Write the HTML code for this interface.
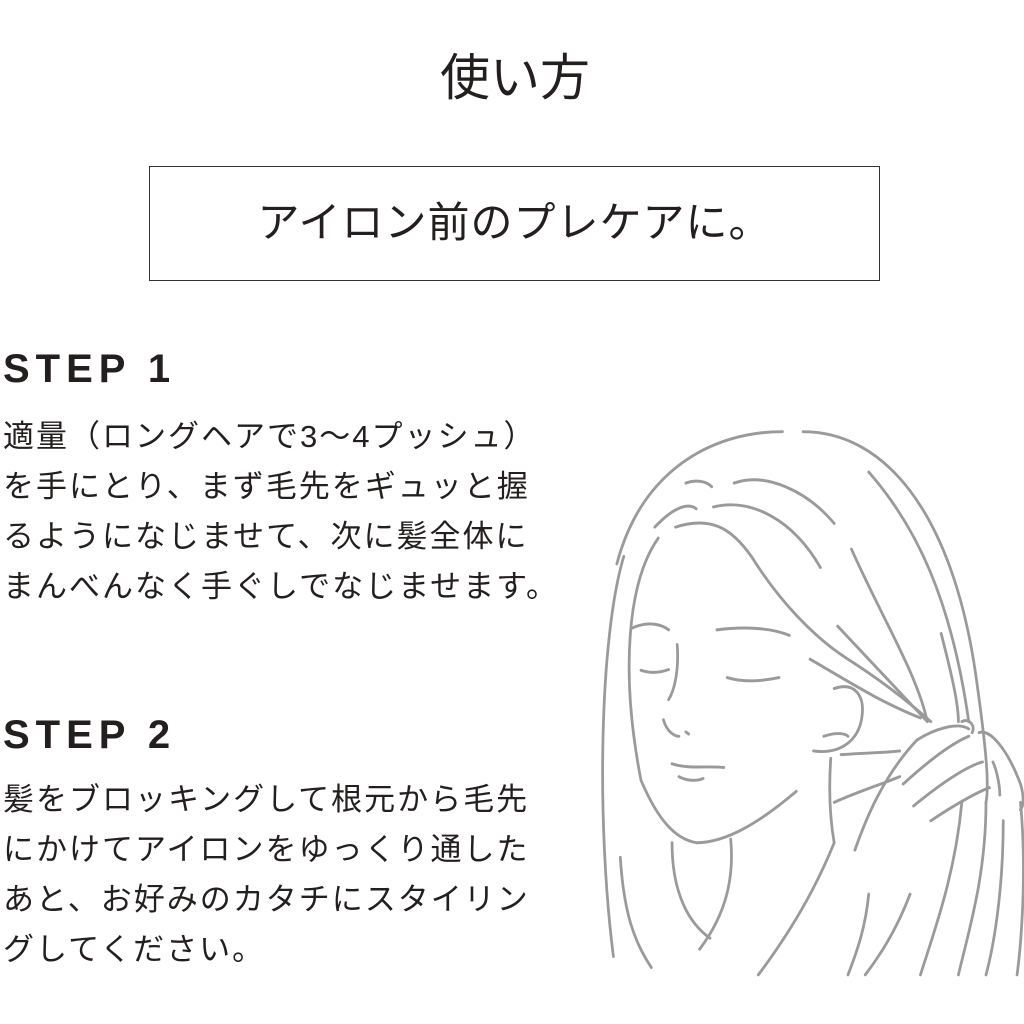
<!DOCTYPE html>
<html><head><meta charset="utf-8">
<style>
html,body{margin:0;padding:0;background:#fff;}
body{width:1024px;height:1024px;position:relative;overflow:hidden;font-family:"Liberation Sans","Noto Sans CJK JP",sans-serif;color:#231f1e;}
.t{position:absolute;white-space:nowrap;}
.title{left:0;width:1030px;text-align:center;top:38px;font-size:50px;font-weight:normal;}
.box{position:absolute;left:149px;top:166px;width:731px;height:115px;border:1.5px solid #333;box-sizing:border-box;}
.box div{text-align:center;font-size:42px;line-height:112px;font-weight:normal;letter-spacing:1px;}
.step{left:3px;font-size:40px;font-weight:bold;letter-spacing:6px;}
.body{left:3px;font-size:31px;letter-spacing:2px;line-height:50px;}
</style></head><body>
<div class="t title">使い方</div>
<div class="box"><div>アイロン前のプレケアに。</div></div>
<div class="t step" style="top:347px">STEP 1</div>
<div class="t body" style="top:412px">適量（ロングヘアで3～4プッシュ）<br>を手にとり、まず毛先をギュッと握<br>るようになじませて、次に髪全体に<br>まんべんなく手ぐしでなじませます。</div>
<div class="t step" style="top:713px">STEP 2</div>
<div class="t body" style="top:775px">髪をブロッキングして根元から毛先<br>にかけてアイロンをゆっくり通した<br>あと、お好みのカタチにスタイリン<br>グしてください。</div>
<svg style="position:absolute;left:0;top:0" width="1024" height="1024">
<g transform="translate(572,417) scale(0.345,0.367)" fill="none" stroke="#9a9a9a" stroke-width="8" stroke-linecap="round">
<path d="M130,400 C200,150 400,40 610,40"/>
<path d="M150,380 C80,600 70,1100 120,1470"/>
<path d="M670,40 C900,40 1100,250 1170,700 C1200,900 1210,1000 1200,1050"/>
<path d="M330,180 C360,170 390,175 405,190"/>
<path d="M470,180 C560,150 680,200 760,290"/>
<path d="M240,300 C300,240 340,235 360,250"/>
<path d="M410,245 C520,220 640,280 720,410"/>
<path d="M250,330 C160,450 140,700 200,990 C250,1100 300,1150 360,1160 C450,1160 550,1100 650,1020"/>
<path d="M300,300 C400,270 460,300 520,380 C600,500 700,600 800,660 C900,720 980,780 1040,830"/>
<path d="M175,575 C220,555 260,565 280,580"/>
<path d="M420,580 C500,570 580,575 630,595"/>
<path d="M200,690 C230,700 260,695 280,688"/>
<path d="M450,710 C500,725 560,718 600,710"/>
<path d="M305,620 C310,680 300,740 280,770"/>
<path d="M265,825 C275,860 300,870 310,870"/>
<path d="M330,858 L338,864"/>
<path d="M290,945 C340,960 390,950 440,955"/>
<path d="M310,980 C340,995 370,990 380,985"/>
<path d="M760,740 C820,720 850,760 840,820 C830,880 780,920 700,910"/>
<path d="M730,870 C760,860 790,860 800,870"/>
<path d="M290,1160 C290,1300 340,1380 400,1420"/>
<path d="M460,1150 C470,1250 450,1350 370,1450"/>
<path d="M750,930 C745,1000 745,1080 760,1160"/>
<path d="M760,1050 C830,1020 900,1000 950,980"/>
<path d="M780,920 C860,915 900,915 950,910"/>
<path d="M860,150 C1000,300 1100,500 1150,830"/>
<path d="M810,360 C900,550 1000,700 1030,830"/>
<path d="M770,570 C850,650 950,750 1030,830"/>
<path d="M690,660 C800,720 900,780 1010,820"/>
<path d="M1070,590 C1100,700 1120,780 1120,830"/>
<path d="M820,1180 C850,1100 900,980 1000,880 C1050,850 1120,830 1150,850"/>
<path d="M960,1000 C1030,940 1100,890 1150,870"/>
<path d="M990,1060 C1080,990 1150,950 1190,940"/>
<path d="M1040,1100 C1120,1050 1180,1020 1210,1010"/>
<path d="M1130,830 C1150,820 1170,840 1160,860"/>
<path d="M1180,860 C1210,850 1260,900 1300,1000 C1310,1030 1310,1060 1300,1070"/>
<path d="M1220,940 C1230,960 1240,1000 1240,1030"/>
<path d="M1130,1050 C1110,1250 1050,1400 1010,1520"/>
<path d="M1200,1050 C1200,1250 1150,1400 1120,1520"/>
<path d="M1300,1050 C1320,1250 1300,1450 1290,1520"/>
<path d="M1250,1100 C1250,1300 1220,1450 1200,1520"/>
<path d="M860,1300 C850,1400 820,1470 800,1520"/>
<path d="M760,1160 C700,1300 620,1420 540,1520"/>
<path d="M980,1300 C940,1400 890,1470 850,1520"/>
<path d="M140,1200 C150,1350 180,1430 230,1500"/>
</g>
</svg>
</body></html>
